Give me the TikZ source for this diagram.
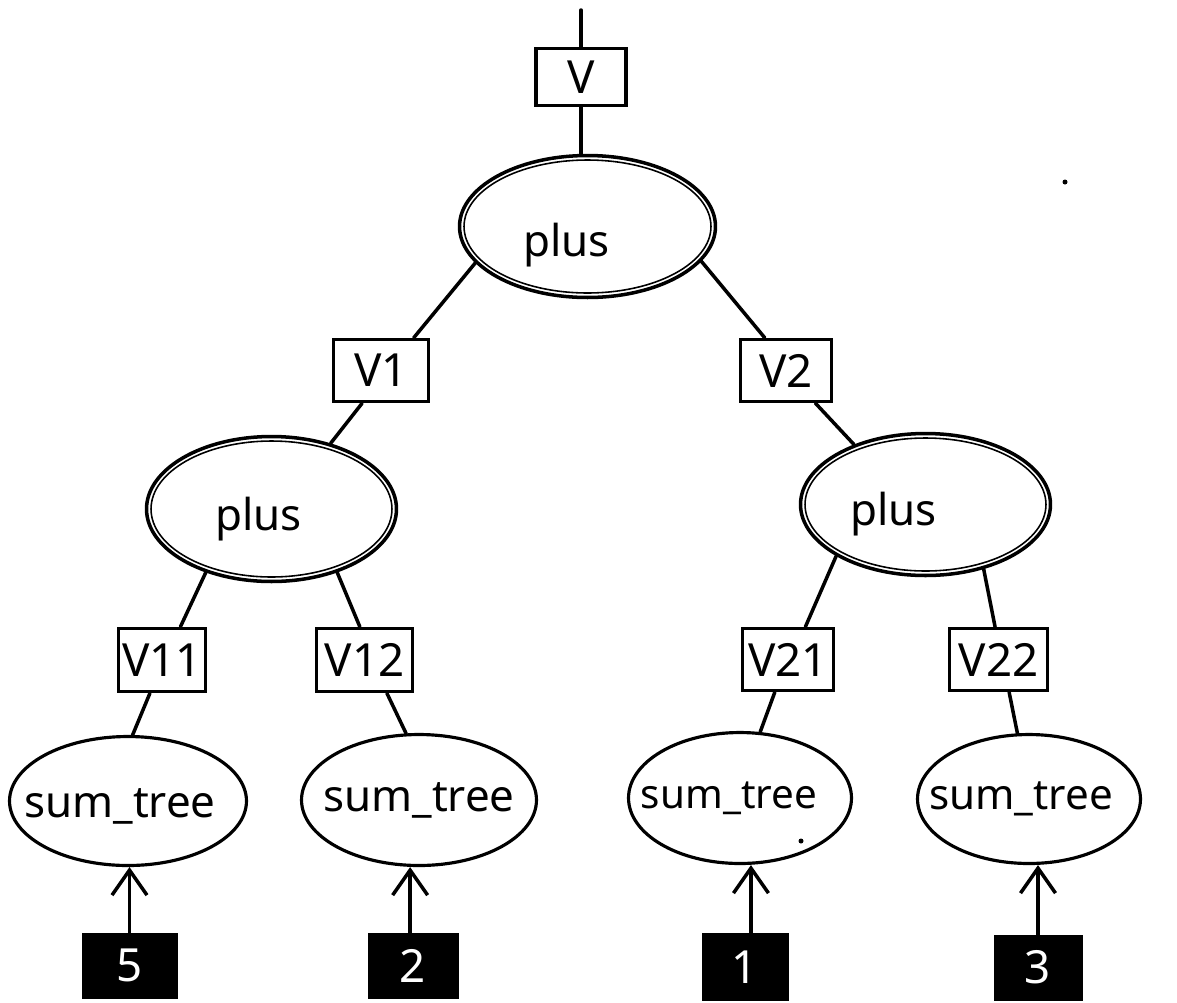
\documentclass[tikz,border=0pt]{standalone}
\usepackage{fontspec}
\setmainfont{Noto Sans}
\usetikzlibrary{shapes.geometric,arrows.meta}
\begin{document}
\begin{tikzpicture}[x=0.02cm,y=-0.02cm,
  ink/.style={line width=2pt, line cap=round},
  var/.style={draw, line width=2pt, rectangle, inner sep=0pt,
    minimum height=1.24cm, font=\fontsize{26}{30}\selectfont},
  op/.style={draw, line width=2pt, ellipse, inner sep=0pt},
  ring/.style={line width=0.9pt},
  proc/.style={draw, line width=1.8pt, ellipse, inner sep=0pt},
  leaf/.style={fill=black, draw=black, inner sep=0pt, minimum height=1.3cm,
    text=white, font=\fontsize{26}{30}\selectfont\bfseries},
  lbl/.style={font=\fontsize{25}{30}\selectfont},
  arr/.style={ink, -{Straight Barb[length=0.5cm,width=0.7cm,line width=2pt]}},
]
\useasboundingbox (0,0) rectangle (1177,1002);

% result variable and top-level operator
\coordinate (top) at (581,10);
\node[var, minimum width=1.8cm, minimum height=1.14cm] (v0) at (581,77) {V};
\node[op, minimum width=5.12cm, minimum height=2.84cm,
  label={[lbl, xshift=-0.42cm, yshift=-0.38cm]center:plus}] (p0) at (587.5,226.5) {};
\draw[ring] (p0.center) ellipse[x radius=2.47cm, y radius=1.33cm];

% intermediate variables
\node[var, minimum width=1.9cm] (v1) at (381,370.5) {V1};
\node[var, minimum width=1.82cm] (v2) at (786,370.5) {V2};

% second-level operators
\node[op, minimum width=5.0cm, minimum height=2.9cm,
  label={[lbl, xshift=-0.26cm, yshift=-0.2cm]center:plus}] (p1) at (271.5,509) {};
\draw[ring] (p1.center) ellipse[x radius=2.41cm, y radius=1.36cm];
\node[op, minimum width=5.0cm, minimum height=2.84cm,
  label={[lbl, xshift=-0.64cm, yshift=-0.2cm]center:plus}] (p2) at (925.5,504.5) {};
\draw[ring] (p2.center) ellipse[x radius=2.41cm, y radius=1.33cm];

% leaf variables
\node[var, minimum width=1.74cm, minimum height=1.26cm] (v11) at (162,660) {V11};
\node[var, minimum width=1.92cm, minimum height=1.26cm] (v12) at (364.5,660) {V12};
\node[var, minimum width=1.82cm] (v21) at (788,659.5) {V21};
\node[var, minimum width=1.96cm] (v22) at (998.5,659.5) {V22};

% recursive calls
\node[proc, minimum width=4.74cm, minimum height=2.58cm,
  label={[lbl, xshift=-0.16cm, yshift=-0.1cm]center:sum\_tree}] (s1) at (128,801) {};
\node[proc, minimum width=4.7cm, minimum height=2.62cm,
  label={[lbl]center:sum\_tree}] (s2) at (419,800) {};
\node[proc, minimum width=4.46cm, minimum height=2.62cm,
  label={[lbl, font=\fontsize{23}{28}\selectfont, xshift=-0.22cm]center:sum\_tree}] (s3) at (740,798) {};
\node[proc, minimum width=4.46cm, minimum height=2.58cm,
  label={[lbl, font=\fontsize{24}{28}\selectfont, xshift=-0.16cm]center:sum\_tree}] (s4) at (1029,799) {};

% input values
\node[leaf, minimum width=1.9cm] (b5) at (129.5,965.5) {5};
\node[leaf, minimum width=1.8cm] (b2) at (413,966) {2};
\node[leaf, minimum width=1.72cm, minimum height=1.34cm] (b1) at (745,967) {1};
\node[leaf, minimum width=1.76cm] (b3) at (1038,967.5) {3};

% connectors
\draw[ink] (top) -- (v0.north);
\draw[ink] (v0.south) -- (v0.south |- p0.north);
\draw[ink] (p0.198) -- (v1.45);
\draw[ink] (p0.343) -- (v2.123);
\draw[ink] (v1.240) -- (p1.48);
\draw[ink] (v2.312) -- (p2.140);
\draw[ink] (p1.224) -- (v11.61);
\draw[ink] (p1.316) -- (v12.98);
\draw[ink] (p2.210) -- (v21.62);
\draw[ink] (p2.312) -- (v22.96);
\draw[ink] (v11.250) -- (s1.86);
\draw[ink] (v12.304) -- (s2.101);
\draw[ink] (v21.248) -- (s3.73);
\draw[ink] (v22.288) -- (s4.100);

% inputs feeding the calls
\draw[arr] (b5.north) -- (b5.north |- s1.south);
\draw[arr] (b2.95) -- (b2.95 |- s2.south);
\draw[arr] (b1.80) -- (b1.80 |- s3.south);
\draw[arr] (b3.north) -- (b3.north |- s4.south);

% stray specks
\fill (1065,182) circle[radius=0.05cm];
\fill (801,841) circle[radius=0.05cm];
\end{tikzpicture}
\end{document}
